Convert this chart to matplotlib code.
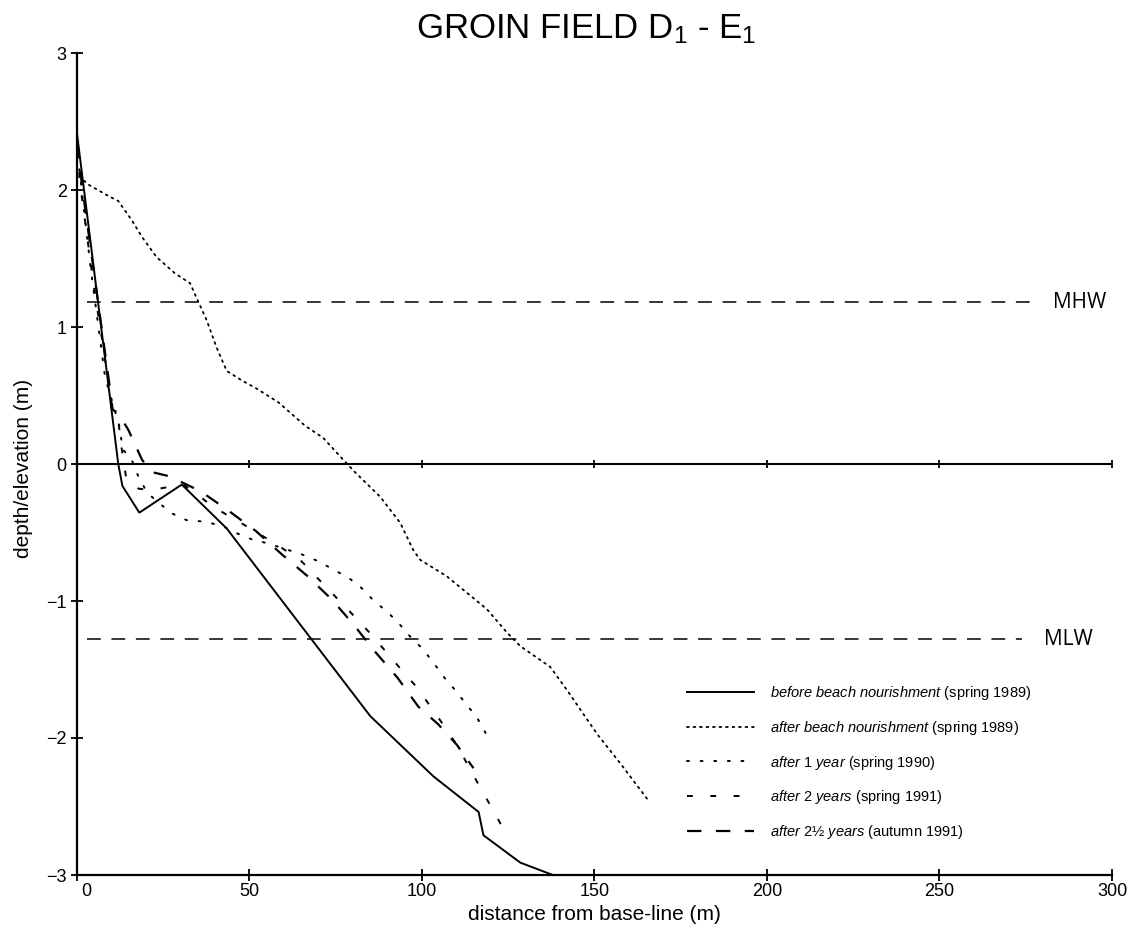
import matplotlib
matplotlib.use("Agg")
import matplotlib.pyplot as plt
import matplotlib.font_manager as fm
import matplotlib.transforms as mtransforms

# ---------------- data ----------------
x_before = [0.2, 12.1, 13.3, 18.2, 30.5, 43.5, 85.1, 103.4, 116.5, 117.9, 128.6, 138.0]
y_before = [2.40, 0.00, -0.16, -0.355, -0.15, -0.47, -1.84, -2.28, -2.54, -2.71, -2.91, -3.00]

x_after = [0.8, 3.4, 9.7, 12.1, 16.0, 18.9, 23.2, 28.6, 32.9, 34.3, 37.7, 40.6, 43.5, 47.9,
           52.2, 58.5, 66.2, 71.5, 77.3, 80.7, 88.0, 93.8, 97.6, 99.6, 107.3, 113.1, 118.9,
           124.7, 128.6, 137.2, 142.1, 150.8, 158.0, 165.5]
y_after = [2.10, 2.04, 1.95, 1.92, 1.78, 1.66, 1.51, 1.39, 1.32, 1.24, 1.05, 0.85, 0.68, 0.61,
           0.55, 0.45, 0.28, 0.19, 0.03, -0.06, -0.24, -0.43, -0.63, -0.70, -0.82, -0.94, -1.06,
           -1.23, -1.33, -1.48, -1.65, -1.97, -2.20, -2.45]

x_1yr = [0.4, 4.0, 8.3, 11.0, 12.6, 13.3, 16.0, 17.9, 20.5, 23.2, 27.6, 31.9, 36.8, 42.1, 45.9,
         50.8, 55.5, 60.4, 65.3, 70.1, 74.4, 78.8, 82.8, 86.2, 90.1, 93.6, 96.7, 100.3, 103.4,
         106.6, 109.7, 112.8, 116.0, 120.0]
y_1yr = [2.25, 1.45, 0.63, 0.40, 0.26, 0.11, 0.03, -0.09, -0.21, -0.27, -0.36, -0.41, -0.42,
         -0.45, -0.50, -0.55, -0.58, -0.62, -0.66, -0.71, -0.77, -0.83, -0.91, -1.00, -1.08,
         -1.17, -1.26, -1.35, -1.45, -1.56, -1.65, -1.75, -1.85, -2.03]

x_2yr = [0.3, 1.0, 5.0, 10.7, 12.0, 13.1, 14.5, 18.0, 21.5, 31.0, 40.1, 48.3, 57.5, 64.8, 72.0,
         79.3, 85.6, 92.0, 98.6, 104.8, 110.2, 114.5, 119.4, 124.5]
y_2yr = [2.30, 2.05, 1.30, 0.37, 0.34, 0.11, -0.12, -0.18, -0.19, -0.15, -0.32, -0.44, -0.58,
         -0.70, -0.89, -1.08, -1.25, -1.44, -1.63, -1.85, -2.05, -2.25, -2.47, -2.70]

x_25yr = [0.3, 1.5, 9.7, 10.3, 12.1, 15.0, 19.0, 22.0, 27.0, 36.0, 44.0, 52.0, 59.5, 67.0,
          74.0, 80.2, 86.5, 93.0, 99.0, 104.8, 110.2, 115.0]
y_25yr = [2.35, 2.05, 0.55, 0.40, 0.37, 0.25, 0.03, -0.06, -0.09, -0.20, -0.34, -0.49, -0.66,
          -0.82, -0.99, -1.17, -1.37, -1.56, -1.77, -1.90, -2.05, -2.22]

mhw_level = 1.18
mlw_level = -1.28
mhw_x = [3, 277]
mlw_x = [3, 274]

x_ticks = [0, 50, 100, 150, 200, 250, 300]
y_ticks = [-3, -2, -1, 0, 1, 2, 3]

labels_italic = ["before beach nourishment", "after beach nourishment", "after 1 year",
                 "after 2 years", "after 2\u00bd years"]
labels_plain = ["(spring 1989)", "(spring 1989)", "(spring 1990)", "(spring 1991)",
                "(autumn 1991)"]

title_text = r"GROIN FIELD D$_1$ - E$_1$"
xlabel_text = "distance from base-line (m)"
ylabel_text = "depth/elevation (m)"


# ---------------- fonts ----------------
def has_font(name):
    try:
        fm.findfont(fm.FontProperties(family=name), fallback_to_default=False)
        return True
    except Exception:
        return False


base = "Liberation Sans" if has_font("Liberation Sans") else "DejaVu Sans"
narrow = "Liberation Sans Narrow" if has_font("Liberation Sans Narrow") else base
plt.rcParams["font.family"] = [base, "DejaVu Sans"]
plt.rcParams["mathtext.fontset"] = "custom"
plt.rcParams["mathtext.rm"] = base
plt.rcParams["mathtext.it"] = base + ":italic"
plt.rcParams["mathtext.bf"] = base + ":bold"

W, H = 1141, 932
fig = plt.figure(figsize=(W / 100, H / 100), dpi=100)
ax = fig.add_axes([76.5 / W, 1 - 875 / H, (1112 - 76.5) / W, (875 - 53) / H])

ax.set_xlim(0, 300)
ax.set_ylim(-3, 3)


def leg_label(i):
    return r"$\mathit{" + labels_italic[i].replace(" ", r"\ ") + "}$ " + labels_plain[i]


# profiles
ax.plot(x_before, y_before, color="black", lw=1.4, ls="-", label=leg_label(0))
ax.plot(x_after, y_after, color="black", lw=1.3, ls=(0, (1.0, 2.6)), dash_capstyle="round",
        label=leg_label(1))
ax.plot(x_1yr, y_1yr, color="black", lw=1.4, ls=(0, (1.0, 6.0)), dash_capstyle="round",
        label=leg_label(2))
ax.plot(x_2yr, y_2yr, color="black", lw=1.4, ls=(0, (3.0, 9.0)), label=leg_label(3))
ax.plot(x_25yr, y_25yr, color="black", lw=1.6, ls=(0, (6.5, 6.5)), label=leg_label(4))

# reference water levels
blend = mtransforms.blended_transform_factory(fig.transFigure, ax.transData)
ax.plot(mhw_x, [mhw_level, mhw_level], color="black", lw=1.1, ls=(0, (9, 7)))
ax.plot(mlw_x, [mlw_level, mlw_level], color="black", lw=1.1, ls=(0, (9, 7)))
ax.text(1080 / W, mhw_level, "MHW", transform=blend, ha="center", va="center",
        fontsize=15, family=["Open Sans", "DejaVu Sans"])
ax.text(1068 / W, mlw_level, "MLW", transform=blend, ha="center", va="center",
        fontsize=15, family=["Open Sans", "DejaVu Sans"])

# zero line with ticks
ax.axhline(0, color="black", lw=1.5, xmin=0, xmax=1)
ax.plot(x_ticks[1:], [0] * (len(x_ticks) - 1), ls="none", marker="|", ms=6, mew=1.3,
        color="black", clip_on=False)

# spines / ticks
for s in ["top", "right"]:
    ax.spines[s].set_visible(False)
for s in ["left", "bottom"]:
    ax.spines[s].set_linewidth(1.6)
ax.set_xticks(x_ticks)
ax.set_yticks(y_ticks)
ax.tick_params(axis="both", direction="inout", length=8, width=1.3, colors="black")
ax.tick_params(axis="x", pad=2, labelsize=14 if narrow != base else 13)
ax.tick_params(axis="y", pad=3, labelsize=13)
for lab in ax.get_xticklabels():
    lab.set_fontfamily([narrow, "DejaVu Sans"])
ax.get_xticklabels()[0].set_transform(
    ax.get_xticklabels()[0].get_transform()
    + mtransforms.ScaledTranslation(10 / 100, 0, fig.dpi_scale_trans))

# labels
fig.text(586 / W, 1 - 29 / H, title_text, ha="center", va="center", fontsize=25,
         family=[narrow, "DejaVu Sans"])
fig.text(594 / W, 1 - 914 / H, xlabel_text, ha="center", va="center", fontsize=15)
fig.text(24 / W, 1 - 468 / H, ylabel_text, ha="center", va="center", fontsize=15, rotation=90)

# legend
leg = ax.legend(loc="upper left", bbox_to_anchor=(687 / W, 1 - 684 / H),
                bbox_transform=fig.transFigure, frameon=False, fontsize=10.5,
                handlelength=4.6, handletextpad=1.1, labelspacing=1.15,
                borderpad=0, borderaxespad=0)

fig.savefig("out.png", dpi=100, facecolor="white")
